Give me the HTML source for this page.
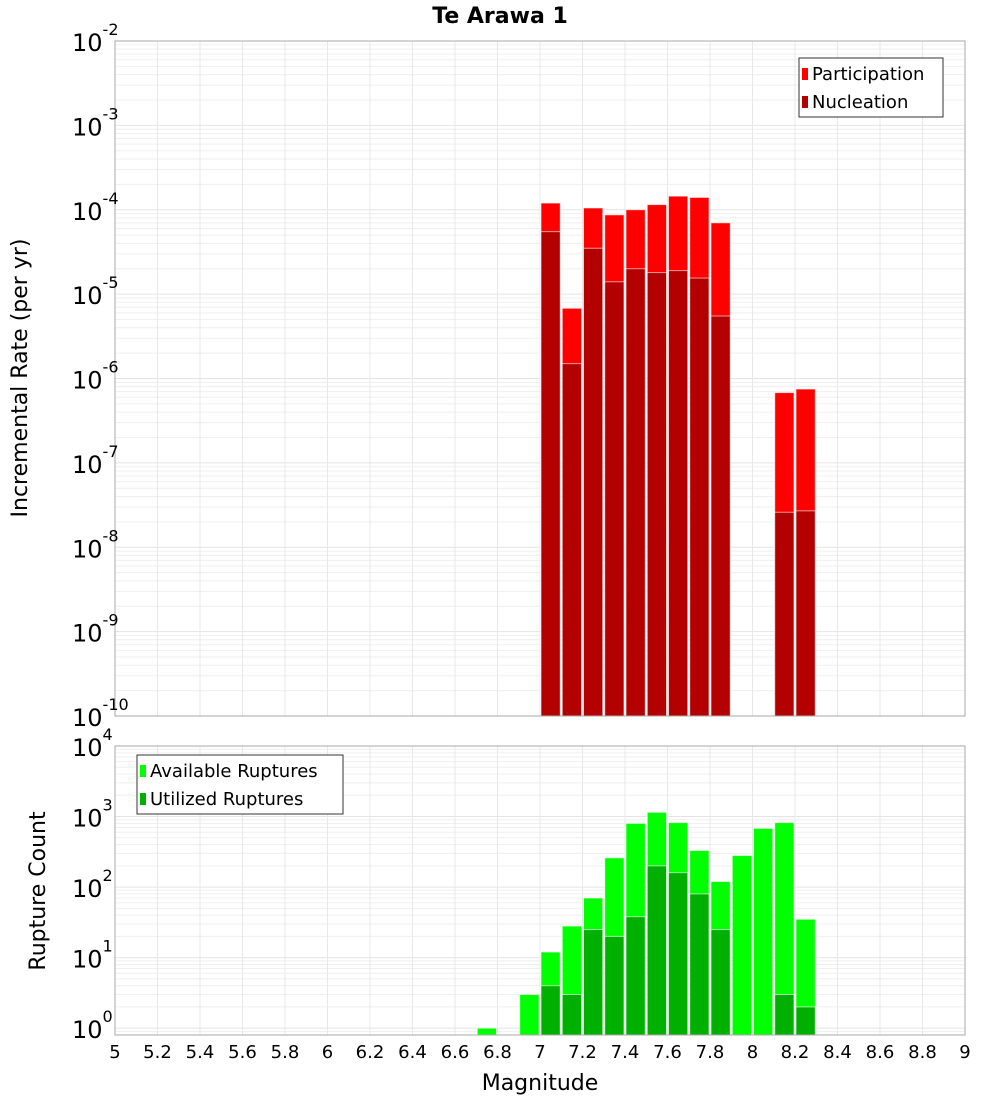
<!DOCTYPE html>
<html><head><meta charset="utf-8"><style>
body{margin:0;background:#fff;font-family:"Liberation Sans","DejaVu Sans",sans-serif}
svg text{font-family:"DejaVu Sans","Liberation Sans",sans-serif}
</style></head><body>
<svg id="c" width="1000" height="1100" xmlns="http://www.w3.org/2000/svg"></svg>
<script>
const mags=[6.75,6.95,7.05,7.15,7.25,7.35,7.45,7.55,7.65,7.75,7.85,7.95,8.05,8.15,8.25];
const participation=[0,0,1.2e-4,6.8e-6,1.05e-4,8.7e-5,1.0e-4,1.15e-4,1.45e-4,1.4e-4,7e-5,0,0,6.8e-7,7.5e-7];
const nucleation=[0,0,5.5e-5,1.5e-6,3.5e-5,1.4e-5,2e-5,1.8e-5,1.9e-5,1.55e-5,5.5e-6,0,0,2.6e-8,2.7e-8];
const available=[1,3,12,28,70,260,800,1150,820,330,120,280,680,820,35];
const utilized=[0,0,4,3,25,20,38,200,160,80,25,0,0,3,2];
const xTicks=[5,5.2,5.4,5.6,5.8,6,6.2,6.4,6.6,6.8,7,7.2,7.4,7.6,7.8,8,8.2,8.4,8.6,8.8,9];
const topExps=[-2,-3,-4,-5,-6,-7,-8,-9,-10];
const botExps=[4,3,2,1,0];

const NS="http://www.w3.org/2000/svg";
const svg=document.getElementById('c');
function mk(t,a,p){const e=document.createElementNS(NS,t);for(const k in a)e.setAttribute(k,a[k]);(p||svg).appendChild(e);return e;}
const X0=115,X1=965;
const x=m=>X0+(m-5)/4*(X1-X0);
const T0=41,T1=716;
const yTop=v=>T0+(-2-Math.log10(v))/8*(T1-T0);
const B0=746,B1=1035,BMIN=Math.log10(0.8);
const yBot=v=>B0+(4-Math.log10(v))/(4-BMIN)*(B1-B0);

function grid(y0,y1,lo,hi,yf,name){
  const g=mk('g',{});
  
  
  for(let e=Math.floor(lo);e<hi;e++){for(let k=1;k<10;k++){const v=k*Math.pow(10,e);const yy=yf(v);if(yy<y0-0.5||yy>y1+0.5)continue;
    mk('line',{x1:X0,x2:X1,y1:yy,y2:yy,stroke:k==1?'#e4e4e4':'#efefef','stroke-width':1},g);}}
  xTicks.forEach(t=>mk('line',{x1:x(t),x2:x(t),y1:y0,y2:y1,stroke:'#e8e8e8'},g));
}
grid(T0,T1,-10,-2,yTop,'top-grid');
grid(B0,B1,-1,4,yBot,'bottom-grid');

function bars(vals,col,yf,base,name){
  vals.forEach((v,i)=>{if(!v)return;const yy=yf(v);
    const r=mk('rect',{x:x(mags[i]-0.05)+1,y:yy,width:x(mags[i]+0.05)-x(mags[i]-0.05)-2,height:base-yy,fill:col,stroke:'#fff','stroke-opacity':0.6,'stroke-width':1});
    
    });
}
bars(participation,'#ff0000',yTop,T1,'participation-bar');
bars(nucleation,'#b30000',yTop,T1,'nucleation-bar');
bars(available,'#00ff00',yBot,B1,'available-bar');
bars(utilized,'#00b000',yBot,B1,'utilized-bar');

mk('rect',{x:X0,y:T0,width:X1-X0,height:T1-T0,fill:'none',stroke:'#aaa'});
mk('rect',{x:X0,y:B0,width:X1-X0,height:B1-B0,fill:'none',stroke:'#aaa'});

topExps.forEach(e=>{const yy=yTop(Math.pow(10,e));
  const t=mk('text',{x:72,y:yy+10,'font-size':24,fill:'#000'});
  
  
  t.textContent='10';const s=mk('tspan',{dy:-16,'font-size':16},t);s.textContent=String(e);});
botExps.forEach(e=>{const yy=yBot(Math.pow(10,e));
  const t=mk('text',{x:72,y:yy+10,'font-size':24,fill:'#000'});
  
  
  t.textContent='10';const s=mk('tspan',{dy:-16,'font-size':16},t);s.textContent=String(e);});
xTicks.forEach(t=>{const tx=mk('text',{x:x(t),y:1058,'font-size':18,'text-anchor':'middle'});
  
  
  tx.textContent=String(t);});

function txt(s,a,name){const t=mk('text',a);t.textContent=s;return t;}
txt('Te Arawa 1',{x:500,y:23,'font-size':22,'font-weight':'bold','text-anchor':'middle'},'chart-title');
txt('Magnitude',{x:540,y:1090,'font-size':22,'text-anchor':'middle'},'x-axis-title');
txt('Incremental Rate (per yr)',{x:27,y:378,'font-size':22,'text-anchor':'middle',transform:'rotate(-90 27 378)'},'y-axis-title-top');
txt('Rupture Count',{x:45,y:891,'font-size':22,'text-anchor':'middle',transform:'rotate(-90 45 891)'},'y-axis-title-bottom');

function legend(x0,y0,w,items,name){
  const g=mk('g',{});
  mk('rect',{x:x0,y:y0,width:w,height:59,fill:'#fff',stroke:'#333'},g);
  items.forEach((it,i)=>{mk('rect',{x:x0+3,y:y0+10+i*28,width:6,height:12,fill:it[1]},g);
    const t=mk('text',{x:x0+13,y:y0+22+i*28,'font-size':18},g);t.textContent=it[0];});
}
legend(799,58,144,[['Participation','#ff0000'],['Nucleation','#b30000']],'legend-top');
legend(137,755,206,[['Available Ruptures','#00ff00'],['Utilized Ruptures','#00b000']],'legend-bottom');
</script>
</body></html>
